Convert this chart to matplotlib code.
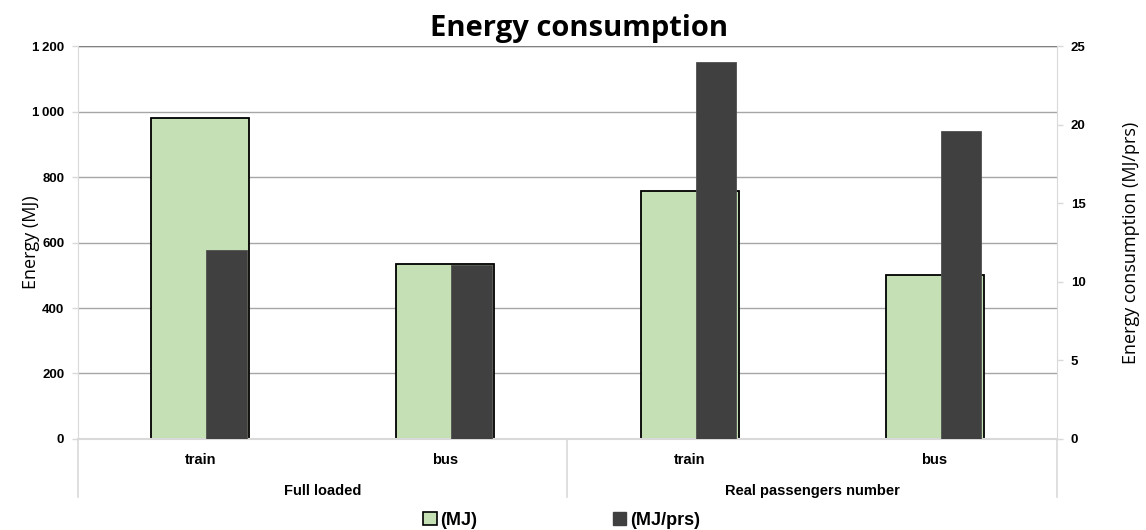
import matplotlib
matplotlib.use("Agg")
import matplotlib.pyplot as plt
import matplotlib.transforms as mtransforms
from matplotlib.patches import Patch
import numpy as np

# data
categories = ["train", "bus", "train", "bus"]
groups = ["Full loaded", "Real passengers number"]
energy_mj = [981, 533, 756, 500]
energy_mj_prs = [12.0, 11.1, 24.0, 19.6]
left_ticks = [0, 200, 400, 600, 800, 1000, 1200]
left_tick_labels = ["0", "200", "400", "600", "800", "1\u2009000", "1\u2009200"]
right_ticks = [0, 5, 10, 15, 20, 25]

green = "#c5e0b4"
dark = "#404040"
grid_c = "#a6a6a6"
light = "#d9d9d9"

fig = plt.figure(figsize=(11.46, 5.30), dpi=100)
ax = fig.add_axes([0.0681, 0.1717, 0.8542, 0.7415])
ax2 = ax.twinx()

x = np.arange(len(categories))
ax.bar(x, energy_mj, width=0.40, color=green, edgecolor="black", linewidth=1.3, zorder=2)
ax2.bar(x + 0.107, energy_mj_prs, width=0.165, color=dark, edgecolor="#505050", linewidth=0.6, zorder=3)

ax.set_xlim(-0.5, 3.5)
ax.set_ylim(0, 1200)
ax2.set_ylim(0, 25)
ax.set_yticks(left_ticks)
ax.set_yticklabels(left_tick_labels)
ax2.set_yticks(right_ticks)

ax.set_axisbelow(True)
ax.yaxis.grid(True, color=grid_c, linewidth=1.0)

for a in (ax, ax2):
    for s in a.spines.values():
        s.set_visible(False)
    a.tick_params(axis="y", length=4, color=light, width=1, pad=6,
                  labelsize=9.5)
    for lab in a.get_yticklabels():
        lab.set_fontfamily("Liberation Sans")
        lab.set_fontweight("bold")
ax.spines["left"].set_visible(True)
ax.spines["left"].set_color(light)
ax.spines["bottom"].set_visible(True)
ax.spines["bottom"].set_color(light)
ax.spines["bottom"].set_linewidth(1.5)
ax2.spines["right"].set_visible(True)
ax2.spines["right"].set_color(light)
ax.axhline(1200, color="#808080", linewidth=1.0, zorder=1)

ax.set_xticks(x)
ax.set_xticklabels(categories, fontfamily="Liberation Sans", fontweight="bold", fontsize=10.5)
ax.tick_params(axis="x", length=0, pad=10)

# group labels and separators below the axis
trans = mtransforms.blended_transform_factory(ax.transData, ax.transAxes)
for i, g in enumerate(groups):
    ax.text(2 * i + 0.5, -0.133, g, transform=trans, ha="center", va="center",
            fontfamily="Liberation Sans", fontweight="bold", fontsize=10.5)
for sx in [-0.5, 1.5, 3.5]:
    ax.plot([sx, sx], [0, -0.148], transform=trans, color=light, linewidth=1.2,
            clip_on=False)

ax.set_ylabel("Energy (MJ)", fontfamily="Open Sans", fontsize=13)
ax.yaxis.set_label_coords(-0.039, 0.5)
ax2.set_ylabel("Energy consumption (MJ/prs)", fontfamily="Open Sans", fontsize=13, labelpad=26)
fig.text(0.505, 0.946, "Energy consumption", fontfamily="Open Sans", fontweight="bold",
         fontsize=21, ha="center", va="center")

handles = [Patch(facecolor=green, edgecolor="black", linewidth=1.2),
           Patch(facecolor=dark, edgecolor=dark)]
fig.legend(handles, ["(MJ)", "(MJ/prs)"], loc="center", bbox_to_anchor=(0.49, 0.018),
           ncol=2, frameon=False, handlelength=0.75, handleheight=0.75, handletextpad=0.2,
           columnspacing=7.5, prop={"family": "Liberation Sans", "weight": "bold", "size": 13})

fig.savefig("out.png", dpi=100)
